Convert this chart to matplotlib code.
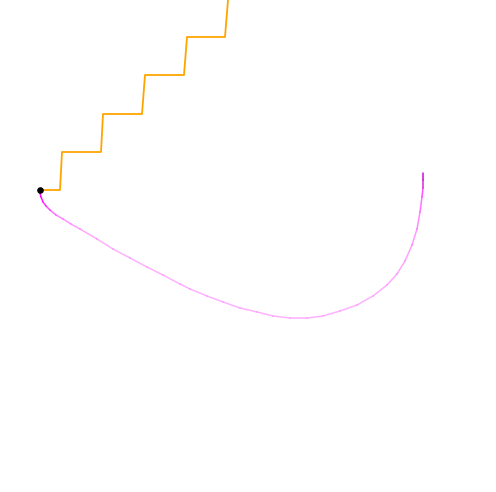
import numpy as np
import matplotlib
matplotlib.use("Agg")
import matplotlib.pyplot as plt
from matplotlib.collections import LineCollection

# staircase path (orange)
stair_x = [40, 60, 62, 101, 103, 142, 145, 184, 187, 225, 228, 229]
stair_y = [190, 190, 152, 152, 114, 114, 75, 75, 37, 37, 0, -10]

# trail curve (magenta, fading in the middle)
trail_x = [40, 40, 41, 43, 46, 50, 56, 63, 71, 80, 97, 113, 130, 147, 163, 180, 190,
           207, 223, 240, 257, 273, 290, 307, 323, 340, 357, 373, 387, 397, 405, 412,
           417, 420, 422, 423, 423, 423]
trail_y = [190, 193, 197, 202, 206, 210, 215, 219, 224, 229, 239, 249, 258, 267, 275, 284, 289,
           296, 302, 308, 312, 316, 318, 318, 316, 311, 305, 296, 285, 274, 261, 245,
           229, 212, 197, 188, 180, 173]
trail_alpha = [1.0, 1.0, 0.95, 0.85, 0.75, 0.62, 0.5, 0.42, 0.38, 0.35, 0.32, 0.3, 0.3, 0.3,
               0.3, 0.3, 0.3, 0.3, 0.3, 0.3, 0.3, 0.3, 0.3, 0.3, 0.3, 0.3, 0.3, 0.3, 0.32,
               0.33, 0.35, 0.38, 0.42, 0.48, 0.6, 0.75, 0.9, 1.0]

fig = plt.figure(figsize=(4.96, 4.92), dpi=100)
ax = fig.add_axes([0, 0, 1, 1])
ax.set_xlim(0, 496)
ax.set_ylim(492, 0)
ax.axis("off")

ax.plot(stair_x, stair_y, color="#FFA500", linewidth=1.3, zorder=2)

pts = np.column_stack([trail_x, trail_y]).astype(float)
segs = np.stack([pts[:-1], pts[1:]], axis=1)
cols = []
for i in range(len(segs)):
    a = (trail_alpha[i] + trail_alpha[i + 1]) / 2
    # darker purple at the far end
    shade = 0.8 if i >= len(segs) - 2 else 1.0
    cols.append((shade, 0.0, shade, a))
lc = LineCollection(segs, colors=cols, linewidths=1.1, zorder=1, capstyle="round",
                    joinstyle="round")
ax.add_collection(lc)

ax.scatter([40], [190], s=14, color="black", zorder=3)

fig.savefig("out.png", dpi=100)
plt.close(fig)
